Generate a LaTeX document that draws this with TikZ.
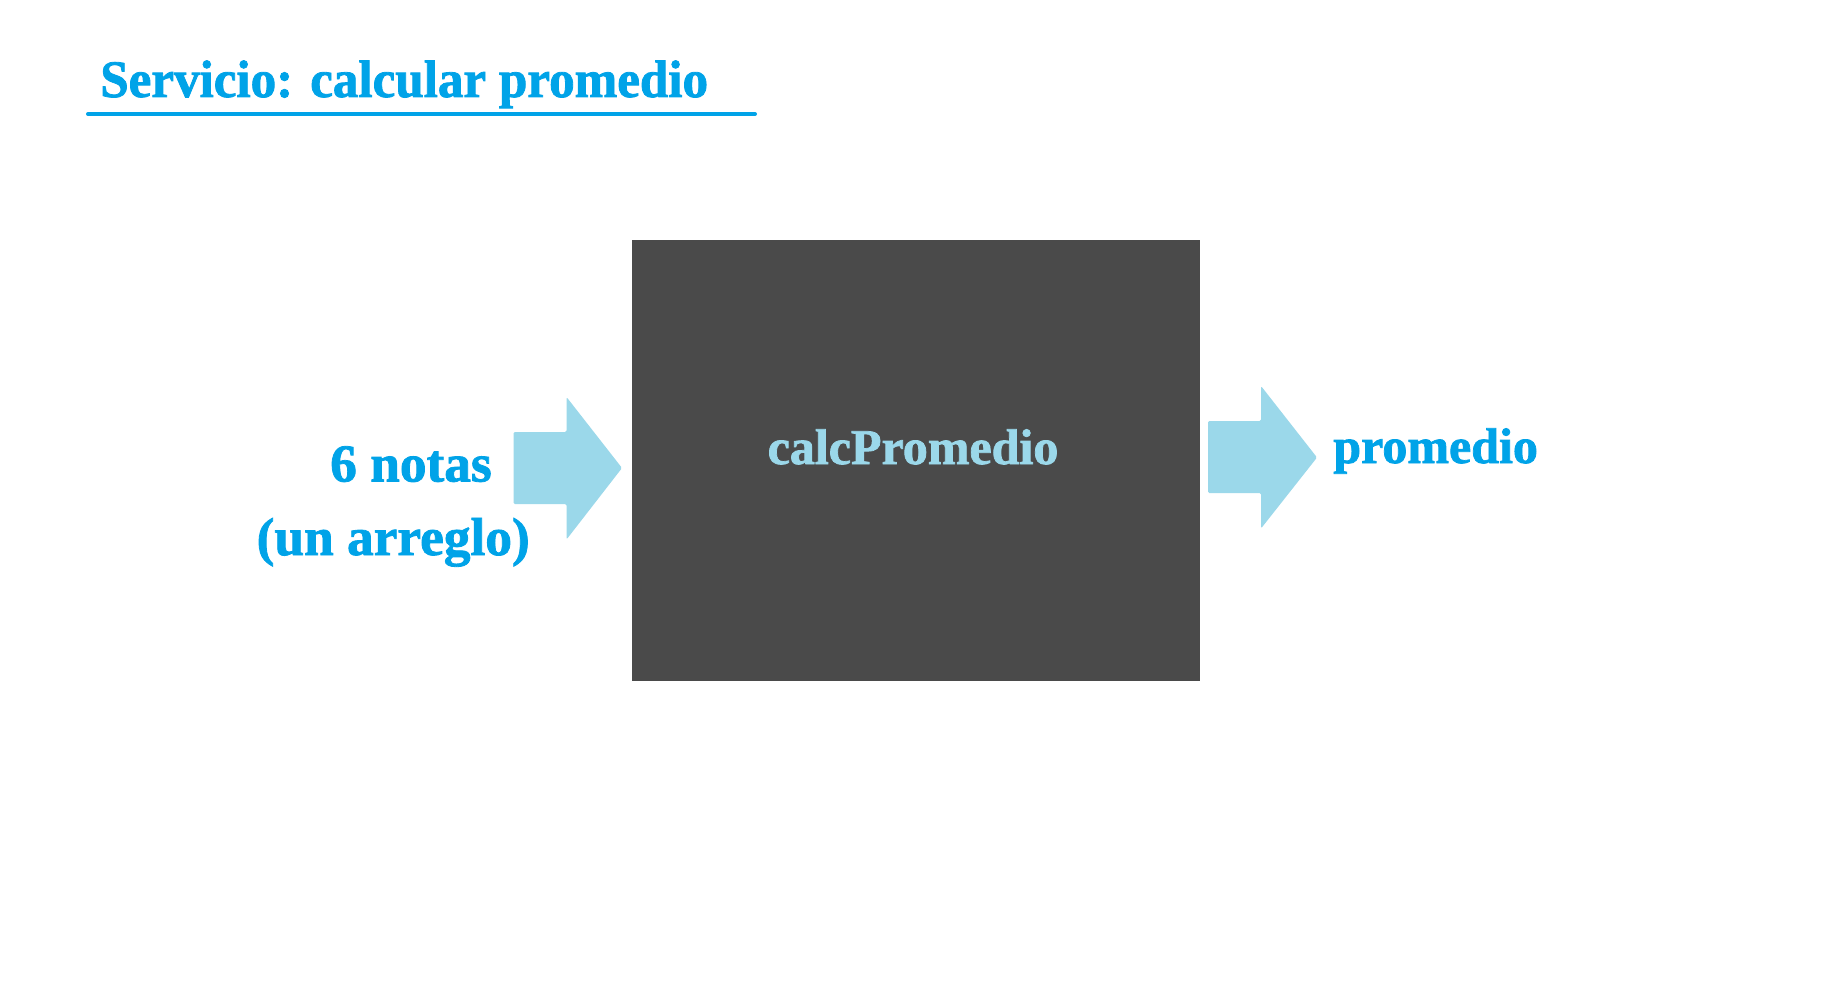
\documentclass[tikz,border=0pt]{standalone}
\usepackage{fontspec}
\setmainfont{Liberation Serif}
\newfontfamily\heavy[FakeBold=1.5]{Liberation Serif Bold}
\newfontfamily\heavytitle[FakeBold=1.5,FakeStretch=0.97]{Liberation Serif Bold}
\definecolor{titleblue}{RGB}{0,163,232}
\definecolor{arrowblue}{RGB}{155,216,234}
\definecolor{boxgray}{RGB}{74,74,74}
\begin{document}
\begin{tikzpicture}[x=0.75pt,y=-0.75pt,
  lbl/.style={inner sep=0pt, text=titleblue, font=\heavy\fontsize{37.5pt}{40pt}\selectfont},
  leftlbl/.style={lbl, font=\heavy\fontsize{40pt}{42pt}\selectfont},
  blockarrow/.style={fill=arrowblue, rounded corners=1pt},
  bigbox/.style={fill=boxgray, inner sep=0pt, minimum width=426pt, minimum height=330.5pt}]
\useasboundingbox (0,0) rectangle (1847,998);
\fill[white] (0,0) rectangle (1847,998);
% title
\node[lbl, anchor=base west, font=\heavytitle\fontsize{39.5pt}{42pt}\selectfont] (title) at (100,97) {Servicio: calcular promedio};
\draw[titleblue, line width=3pt, line cap=round] (88,114) coordinate (ulA) -- (755,114) coordinate (ulB);
% box
\node[bigbox] (box) at (916,460.5) {};
\node[lbl, text=arrowblue, anchor=base] (calc) at (913,464) {calcPromedio};
% arrows
\fill[blockarrow] (513.5,432) -- (566.5,432) -- (566.5,397) -- (622,468) -- (566.5,539.5) -- (566.5,504) -- (513.5,504) -- cycle;
\fill[blockarrow] (1208,421) -- (1261,421) -- (1261,386) -- (1317,457.5) -- (1261,528.5) -- (1261,493) -- (1208,493) -- cycle;
% labels
\node[leftlbl, anchor=base east] (notas) at (492,481.5) {6 notas};
\node[leftlbl, anchor=base east] (arreglo) at (530,555) {(un arreglo)};
\node[lbl, anchor=base west] (prom) at (1333,463) {promedio};
\end{tikzpicture}
\end{document}
